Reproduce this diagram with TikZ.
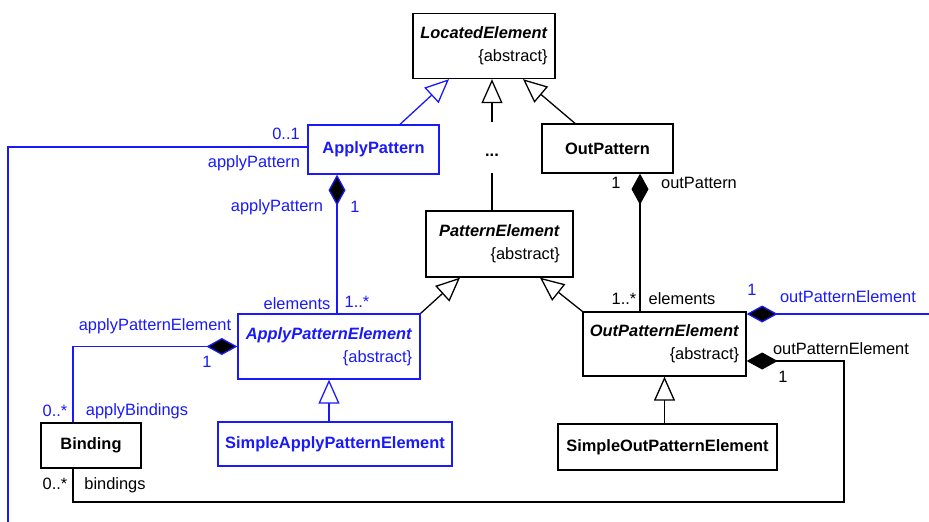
\documentclass[tikz,border=0pt]{standalone}
\usepackage{fontspec}
\setmainfont{Liberation Sans}
\usetikzlibrary{arrows.meta,positioning}
\definecolor{umlblue}{RGB}{25,25,250}

\begin{document}
\begin{tikzpicture}[
    x=1pt, y=-1pt,
    font=\fontsize{16.4}{19}\selectfont,
    cls/.style={draw, line width=1.3pt, inner sep=0pt, font=\fontsize{16.4}{19}\selectfont\bfseries},
    abscls/.style={cls, align=right, font=\fontsize{16.4}{23}\selectfont},
    bluecls/.style={draw=umlblue, text=umlblue},
    conn/.style={line width=1.3pt},
    gen/.style={conn, -{Triangle[open, length=24pt, width=21pt]}},
    comp/.style={conn, -{Diamond[length=31pt, width=17pt, fill=black]}},
    lbl/.style={inner sep=0pt}
]
\useasboundingbox (0,0) rectangle (929,522);

\node[abscls, minimum width=142pt, minimum height=65pt] (located) at (484,46) {\textbf{\textit{LocatedElement}}\\\{abstract\}};
\node[cls, bluecls, minimum width=131pt, minimum height=49pt] (applyPattern) at (373.5,149.5) {ApplyPattern};
\node[cls, minimum width=131pt, minimum height=49pt] (outPattern) at (607.5,148.5) {OutPattern};
\node[inner sep=0pt, text height=34pt, text depth=17pt, anchor=base] (dots) at (492,156) {\textbf{...}};
\node[abscls, minimum width=147pt, minimum height=66pt] (patternEl) at (499.5,244) {\textbf{\textit{PatternElement}}\\\{abstract\}};
\node[abscls, bluecls, minimum width=182pt, minimum height=65pt] (applyPatEl) at (329,346.5) {\textbf{\textit{ApplyPatternElement}}\\\{abstract\}};
\node[abscls, minimum width=163pt, minimum height=64pt] (outPatEl) at (664.5,344) {\textbf{\textit{OutPatternElement}}\\\{abstract\}};
\node[cls, bluecls, minimum width=234pt, minimum height=44pt] (simpleApply) at (335,444) {SimpleApplyPatternElement};
\node[cls, minimum width=219pt, minimum height=46pt] (simpleOut) at (667.5,447) {SimpleOutPatternElement};
\node[cls, minimum width=100pt, minimum height=45pt] (binding) at (91,445.5) {Binding};

\coordinate (applyFree) at (8,522);
\coordinate (outFree) at (929,314);
\coordinate (bindTurn) at (844,502);

\draw[gen, umlblue] ([xshift=26.5pt]applyPattern.north) -- ([xshift=-35pt]located.south);
\draw[gen] (dots.north) -- (dots.north |- located.south);
\draw[conn] (patternEl.north -| dots.south) -- (dots.south);
\draw[gen] ([xshift=-32.5pt]outPattern.north) -- ([xshift=39pt]located.south);
\draw[gen] (applyPatEl.north east) -- ([xshift=-39.5pt]patternEl.south);
\draw[gen] (outPatEl.north west) -- ([xshift=40.5pt]patternEl.south);
\draw[gen, umlblue] (simpleApply.north -| applyPatEl.south) -- (applyPatEl.south);
\draw[gen] (simpleOut.north -| outPatEl.south) -- (outPatEl.south);

\draw[comp, umlblue] ([xshift=8pt]applyPatEl.north) -- ([xshift=8pt]applyPatEl.north |- applyPattern.south);
\draw[comp] ([xshift=-24.5pt]outPatEl.north) -- ([xshift=-24.5pt]outPatEl.north |- outPattern.south);
\draw[comp, umlblue] ([xshift=-18pt]binding.north) |- (applyPatEl.west);
\draw[comp, umlblue] (outFree) -- (outFree -| outPatEl.east);
\draw[conn, umlblue] (applyFree) |- ([yshift=2.5pt]applyPattern.west);
\draw[comp] ([xshift=-18pt]binding.south) |- (bindTurn) |- ([yshift=-17pt]outPatEl.east);

\node[lbl, text=umlblue] (apMult) at (286,134) {0..1};
\node[lbl, text=umlblue] (apRole) at (254,163) {applyPattern};
\node[lbl, text=umlblue] (apeRole) at (277,207) {applyPattern};
\node[lbl, text=umlblue] (apeOne) at (355,207) {1};
\node[lbl, text=umlblue] (elemRole) at (297,304) {elements};
\node[lbl, text=umlblue] (elemMult) at (357,302) {1..*};
\node[lbl, text=umlblue] (bapeRole) at (155,326) {applyPatternElement};
\node[lbl, text=umlblue] (bapeOne) at (207,362) {1};
\node[lbl, text=umlblue] (abMult) at (55,411) {0..*};
\node[lbl, text=umlblue] (abRole) at (137,411) {applyBindings};
\node[lbl] (bMult) at (55,484) {0..*};
\node[lbl] (bRole) at (115,485) {bindings};
\node[lbl] (opOne) at (616,183) {1};
\node[lbl] (opRole) at (699,183) {outPattern};
\node[lbl] (oelemMult) at (624,299) {1..*};
\node[lbl] (oelemRole) at (682,299) {elements};
\node[lbl, text=umlblue] (opeOneB) at (752,290) {1};
\node[lbl, text=umlblue] (opeRoleB) at (848,297) {outPatternElement};
\node[lbl] (opeRole) at (841,349) {outPatternElement};
\node[lbl] (opeOne) at (783,377) {1};
\end{tikzpicture}
\end{document}
